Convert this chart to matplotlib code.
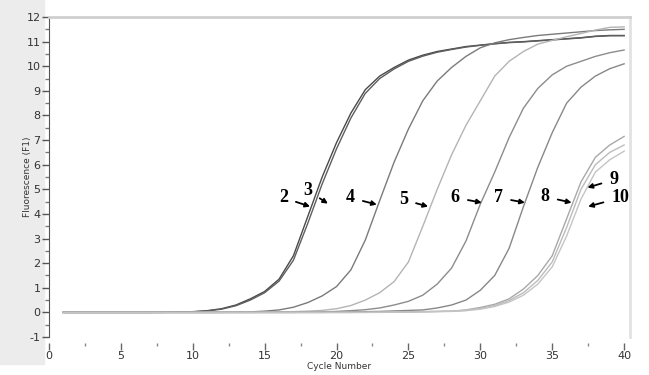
import numpy as np
import matplotlib.pyplot as plt
from matplotlib.ticker import MultipleLocator

plt.rcParams['axes.unicode_minus'] = False

cycles = np.arange(1, 41)

# fluorescence per cycle
c2 = [0.0, 0.0, 0.0, 0.0, 0.0, 0.0, 0.0, 0.01, 0.02, 0.03,
      0.07, 0.15, 0.3, 0.55, 0.85, 1.35, 2.3, 3.9, 5.5, 6.9,
      8.1, 9.05, 9.6, 9.95, 10.25, 10.45, 10.6, 10.7, 10.8, 10.86,
      10.92, 10.97, 11.0, 11.04, 11.08, 11.12, 11.16, 11.22, 11.25, 11.25]
c3 = [0.0, 0.0, 0.0, 0.0, 0.0, 0.0, 0.0, 0.0, 0.01, 0.02,
      0.06, 0.13, 0.27, 0.5, 0.8, 1.27, 2.12, 3.62, 5.22, 6.65,
      7.9, 8.9, 9.5, 9.89, 10.2, 10.41, 10.57, 10.68, 10.78, 10.85,
      10.91, 10.96, 10.99, 11.03, 11.07, 11.11, 11.15, 11.21, 11.24, 11.24]
c4 = [0.0, 0.0, 0.0, 0.0, 0.0, 0.0, 0.0, 0.0, 0.0, 0.0,
      0.0, 0.0, 0.01, 0.02, 0.05, 0.1, 0.21, 0.4, 0.67, 1.05,
      1.73, 2.94, 4.54, 6.1, 7.45, 8.6, 9.4, 9.95, 10.4, 10.75,
      10.95, 11.08, 11.17, 11.25, 11.3, 11.35, 11.4, 11.45, 11.48, 11.5]
c5 = [0.0, 0.0, 0.0, 0.0, 0.0, 0.0, 0.0, 0.0, 0.0, 0.0,
      0.0, 0.0, 0.0, 0.0, 0.01, 0.02, 0.03, 0.05, 0.08, 0.15,
      0.28, 0.5, 0.8, 1.25, 2.05, 3.5, 5.0, 6.4, 7.6, 8.6,
      9.6, 10.2, 10.6, 10.9, 11.05, 11.2, 11.33, 11.47, 11.58, 11.6]
c6 = [0.0, 0.0, 0.0, 0.0, 0.0, 0.0, 0.0, 0.0, 0.0, 0.0,
      0.0, 0.0, 0.0, 0.0, 0.0, 0.0, 0.0, 0.01, 0.02, 0.04,
      0.07, 0.11, 0.18, 0.3, 0.45, 0.7, 1.15, 1.8, 2.9, 4.4,
      5.7, 7.1, 8.3, 9.1, 9.65, 10.0, 10.2, 10.4, 10.55, 10.66]
c7 = [0.0, 0.0, 0.0, 0.0, 0.0, 0.0, 0.0, 0.0, 0.0, 0.0,
      0.0, 0.0, 0.0, 0.0, 0.0, 0.0, 0.0, 0.0, 0.0, 0.01,
      0.02, 0.03, 0.04, 0.06, 0.08, 0.1, 0.18, 0.3, 0.5, 0.9,
      1.5, 2.6, 4.3, 5.9, 7.3, 8.5, 9.15, 9.6, 9.9, 10.1]
c8 = [0.0, 0.0, 0.0, 0.0, 0.0, 0.0, 0.0, 0.0, 0.0, 0.0,
      0.0, 0.0, 0.0, 0.0, 0.0, 0.0, 0.0, 0.0, 0.0, 0.0,
      0.0, 0.01, 0.01, 0.02, 0.02, 0.03, 0.04, 0.05, 0.1, 0.2,
      0.33, 0.55, 0.95, 1.5, 2.3, 3.8, 5.3, 6.3, 6.8, 7.15]
c9 = [0.0, 0.0, 0.0, 0.0, 0.0, 0.0, 0.0, 0.0, 0.0, 0.0,
      0.0, 0.0, 0.0, 0.0, 0.0, 0.0, 0.0, 0.0, 0.0, 0.0,
      0.0, 0.0, 0.01, 0.01, 0.02, 0.03, 0.04, 0.05, 0.08, 0.16,
      0.28, 0.48, 0.8, 1.3, 2.05, 3.45, 5.0, 6.0, 6.5, 6.8]
c10 = [0.0, 0.0, 0.0, 0.0, 0.0, 0.0, 0.0, 0.0, 0.0, 0.0,
       0.0, 0.0, 0.0, 0.0, 0.0, 0.0, 0.0, 0.0, 0.0, 0.0,
       0.0, 0.0, 0.0, 0.01, 0.01, 0.02, 0.03, 0.04, 0.07, 0.13,
       0.24, 0.42, 0.7, 1.15, 1.85, 3.1, 4.6, 5.7, 6.2, 6.55]

curves = [c2, c3, c4, c5, c6, c7, c8, c9, c10]
colors = ['#4a4a4a', '#5e5e5e', '#7a7a7a', '#b4b4b4', '#8c8c8c',
          '#888888', '#a8a8a8', '#bcbcbc', '#c4c4c4']

labels = ['2', '3', '4', '5', '6', '7', '8', '9', '10']
label_xy = [(16.3, 4.66), (18.0, 4.95), (20.95, 4.66), (24.65, 4.58), (28.25, 4.66),
            (31.25, 4.66), (34.5, 4.7), (39.3, 5.39), (39.75, 4.66)]
arrow_to = [(18.16, 4.3), (19.4, 4.42), (22.8, 4.38), (26.37, 4.3), (30.1, 4.46),
            (33.1, 4.46), (36.35, 4.46), (37.45, 5.07), (37.5, 4.3)]

fig = plt.figure(figsize=(6.49, 3.75), dpi=100)
fig.patch.set_facecolor('white')
# grey strip on the left like the screenshot
fig.patches.append(plt.Rectangle((0, 0.03), 0.068, 0.97, transform=fig.transFigure,
                                 color='#ececec', zorder=-5))
ax = fig.add_axes([0.0755, 0.1013, 0.895, 0.8533])

for y, c in zip(curves, colors):
    ax.plot(cycles, y, color=c, lw=1.0)

for t, xy, tgt in zip(labels, label_xy, arrow_to):
    ax.annotate(t, xy=tgt, xytext=xy, fontsize=13, fontweight='bold',
                family='Liberation Serif', ha='center', va='center',
                arrowprops=dict(arrowstyle='-|>', color='black', lw=1.3,
                                mutation_scale=7, shrinkA=4, shrinkB=0),
                annotation_clip=False)

ax.set_xlim(0, 40.4)
ax.set_ylim(-1, 12)
ax.xaxis.set_major_locator(MultipleLocator(5))
ax.xaxis.set_minor_locator(MultipleLocator(2.5))
ax.yaxis.set_major_locator(MultipleLocator(1))
ax.yaxis.set_minor_locator(MultipleLocator(0.5))

ax.spines['bottom'].set_visible(False)
ax.spines['bottom'].set_position(('outward', 4))
ax.spines['top'].set_color('#cfcfcf')
ax.spines['top'].set_linewidth(2)
ax.spines['right'].set_color('#e2e2e2')
ax.spines['right'].set_linewidth(2)
ax.spines['left'].set_color('#555555')
ax.tick_params(axis='y', which='major', length=5, width=1, color='#555555',
               labelsize=8, pad=1, labelcolor='#333333')
ax.tick_params(axis='y', which='minor', length=3, width=1, color='#777777')
ax.tick_params(axis='x', which='major', length=5, width=1, color='#666666',
               labelsize=8, pad=1, labelcolor='#333333')
ax.tick_params(axis='x', which='minor', length=2, width=1, color='#888888')

ax.set_xlabel('Cycle Number', fontsize=6.5, labelpad=1, color='#333333')
ax.set_ylabel('Fluorescence (F1)', fontsize=6.5, color='#333333')
ax.yaxis.set_label_coords(-0.03, 0.5)

fig.savefig('out.png', dpi=100, facecolor=fig.get_facecolor())
